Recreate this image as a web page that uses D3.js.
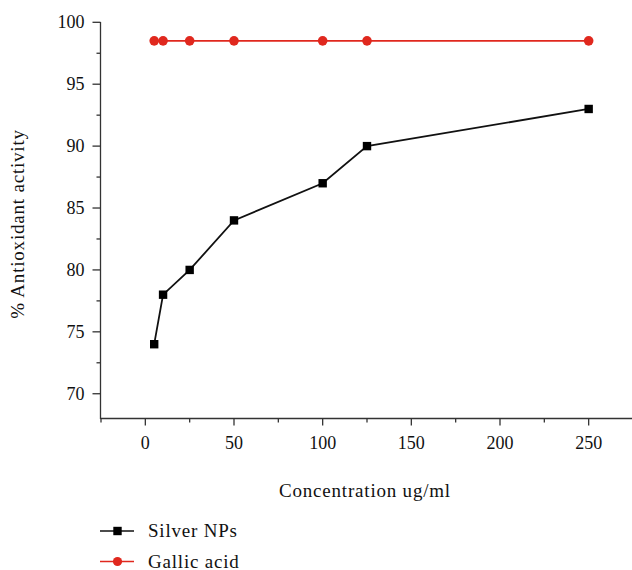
<!DOCTYPE html>
<html>
<head>
<meta charset="utf-8">
<script src="https://cdn.jsdelivr.net/npm/d3@7"></script>
<style>
  body { margin: 0; background: #fff; }
</style>
</head>
<body>
<svg id="chart" width="632" height="570"></svg>
<script>
// data
var conc = [5, 10, 25, 50, 100, 125, 250];
var silver = [74, 78, 80, 84, 87, 90, 93];
var gallic = [98.5, 98.5, 98.5, 98.5, 98.5, 98.5, 98.5];
var xTicks = [0, 50, 100, 150, 200, 250];
var yTicks = [70, 75, 80, 85, 90, 95, 100];

var FONT = "'Liberation Serif', serif";
var svg = d3.select("#chart");

var x = d3.scaleLinear().domain([-25, 275]).range([101, 633]);
var y = d3.scaleLinear().domain([68, 100]).range([418.5, 22.3]);

function label(sel, size, spacing) {
  return sel.attr("font-family", FONT).attr("font-size", size)
    .attr("letter-spacing", spacing || 0).attr("fill", "#111");
}

// x axis
var xAxis = svg.append("g").attr("transform", "translate(0,418.5)");
xAxis.append("line").attr("x1", 100.5).attr("x2", 632).attr("stroke", "#333").attr("stroke-width", 1.3);
xAxis.selectAll(".minor").data(d3.range(-25, 276, 50)).enter().append("line")
  .attr("x1", d => x(d)).attr("x2", d => x(d)).attr("y1", 0).attr("y2", 4)
  .attr("stroke", "#333").attr("stroke-width", 1.3);
xAxis.selectAll(".major").data(xTicks).enter().append("line")
  .attr("x1", d => x(d)).attr("x2", d => x(d)).attr("y1", 0).attr("y2", 7)
  .attr("stroke", "#333").attr("stroke-width", 1.3);
label(xAxis.selectAll(".lbl").data(xTicks).enter().append("text")
  .attr("x", d => x(d)).attr("y", 30).attr("text-anchor", "middle"), 18)
  .text(d => d);

// y axis
var yAxis = svg.append("g").attr("transform", "translate(100.5,0)");
yAxis.append("line").attr("y1", 22).attr("y2", 419).attr("stroke", "#333").attr("stroke-width", 1.3);
yAxis.selectAll(".minor").data(d3.range(72.5, 100, 5)).enter().append("line")
  .attr("x1", -4).attr("x2", 0).attr("y1", d => y(d)).attr("y2", d => y(d))
  .attr("stroke", "#333").attr("stroke-width", 1.3);
yAxis.selectAll(".major").data(yTicks).enter().append("line")
  .attr("x1", -8).attr("x2", 0).attr("y1", d => y(d)).attr("y2", d => y(d))
  .attr("stroke", "#333").attr("stroke-width", 1.3);
label(yAxis.selectAll(".lbl").data(yTicks).enter().append("text")
  .attr("x", -16).attr("y", d => y(d) + 6).attr("text-anchor", "end"), 18)
  .text(d => d);

// axis titles
label(svg.append("text").attr("x", 365).attr("y", 497).attr("text-anchor", "middle"), 19, 0.8)
  .text("Concentration ug/ml");
label(svg.append("text").attr("transform", "translate(24,224) rotate(-90)")
  .attr("text-anchor", "middle"), 19, 0.8)
  .text("% Antioxidant activity");

// lines
var line = d3.line().x(d => x(d[0])).y(d => y(d[1]));
var gData = d3.zip(conc, gallic);
var sData = d3.zip(conc, silver);

svg.append("path").datum(gData).attr("d", line)
  .attr("fill", "none").attr("stroke", "#e0281e").attr("stroke-width", 1.8);
svg.selectAll(".gpt").data(gData).enter().append("circle")
  .attr("cx", d => x(d[0])).attr("cy", d => y(d[1])).attr("r", 4.8)
  .attr("fill", "#e0281e");

svg.append("path").datum(sData).attr("d", line)
  .attr("fill", "none").attr("stroke", "#111").attr("stroke-width", 1.8);
svg.selectAll(".spt").data(sData).enter().append("rect")
  .attr("x", d => x(d[0]) - 4.2).attr("y", d => y(d[1]) - 4.2)
  .attr("width", 8.4).attr("height", 8.4).attr("fill", "#000");

// legend
var legend = [
  {name: "Silver NPs", color: "#111", shape: "square", y: 531},
  {name: "Gallic acid", color: "#e0281e", shape: "circle", y: 561.5}
];
legend.forEach(function(l) {
  var g = svg.append("g");
  g.append("line").attr("x1", 100).attr("x2", 134).attr("y1", l.y).attr("y2", l.y)
    .attr("stroke", l.color).attr("stroke-width", 1.6);
  if (l.shape == "square") {
    g.append("rect").attr("x", 117.5 - 4.2).attr("y", l.y - 4.2)
      .attr("width", 8.4).attr("height", 8.4).attr("fill", "#000");
  } else {
    g.append("circle").attr("cx", 117.5).attr("cy", l.y).attr("r", 4.6).attr("fill", l.color);
  }
  label(g.append("text").attr("x", 148).attr("y", l.y + 6), 19, 0.8).text(l.name);
});
</script>
</body>
</html>
